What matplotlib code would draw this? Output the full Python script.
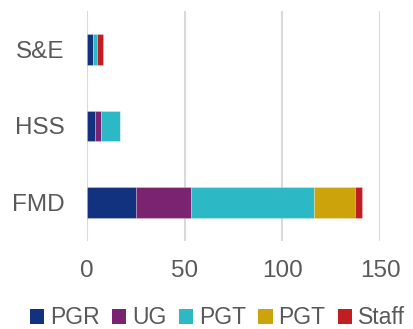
import matplotlib
matplotlib.use("Agg")
import matplotlib.pyplot as plt
from matplotlib.patches import Patch
import numpy as np

plt.rcParams['font.family'] = ['Liberation Sans', 'DejaVu Sans']

categories = ["S&E", "HSS", "FMD"]
series_names = ["PGR", "UG", "PGT", "PGT", "Staff"]
pgr = [3, 4, 25]
ug = [0, 3, 28]
pgt = [2, 10, 63]
pgt2 = [0, 0, 21]
staff = [3, 0, 4]
series_values = [pgr, ug, pgt, pgt2, staff]
colors = ["#12317F", "#7A2371", "#2DB8C5", "#CCA30A", "#C01E21"]
x_ticks = [0, 50, 100, 150]

text_color = "#595959"

fig = plt.figure(figsize=(4.14, 3.29), dpi=100)
ax = fig.add_axes([87 / 414, 1 - 241 / 329, 293 / 414, 230 / 329])

y = np.arange(len(categories))
left = np.zeros(len(categories))
for vals, col in zip(series_values, colors):
    ax.barh(y, vals, left=left, height=0.4, color=col,
            edgecolor=(1, 1, 1, 0.35), linewidth=0.5, zorder=3)
    left += np.array(vals)

ax.set_xlim(0, 150)
ax.set_ylim(2.5, -0.5)
ax.set_xticks(x_ticks)
ax.set_xticklabels([str(t) for t in x_ticks])
ax.set_yticks(y)
ax.set_yticklabels(categories)
ax.grid(axis="x", color="#d9d9d9", linewidth=1.5, zorder=0)
for s in ax.spines.values():
    s.set_visible(False)
ax.tick_params(axis="both", length=0, labelcolor=text_color, labelsize=17.5)
ax.tick_params(axis="x", pad=13.5)
ax.tick_params(axis="y", pad=16)

handles = [Patch(facecolor=c, edgecolor="none") for c in colors]
fig.legend(handles, series_names, loc="center", bbox_to_anchor=(0.525, 1 - 318 / 329),
           ncol=5, frameon=False, fontsize=16.5, labelcolor=text_color,
           handlelength=0.62, handleheight=0.62, handletextpad=0.25,
           columnspacing=0.55, borderaxespad=0, borderpad=0)

fig.savefig("out.png", dpi=100)
